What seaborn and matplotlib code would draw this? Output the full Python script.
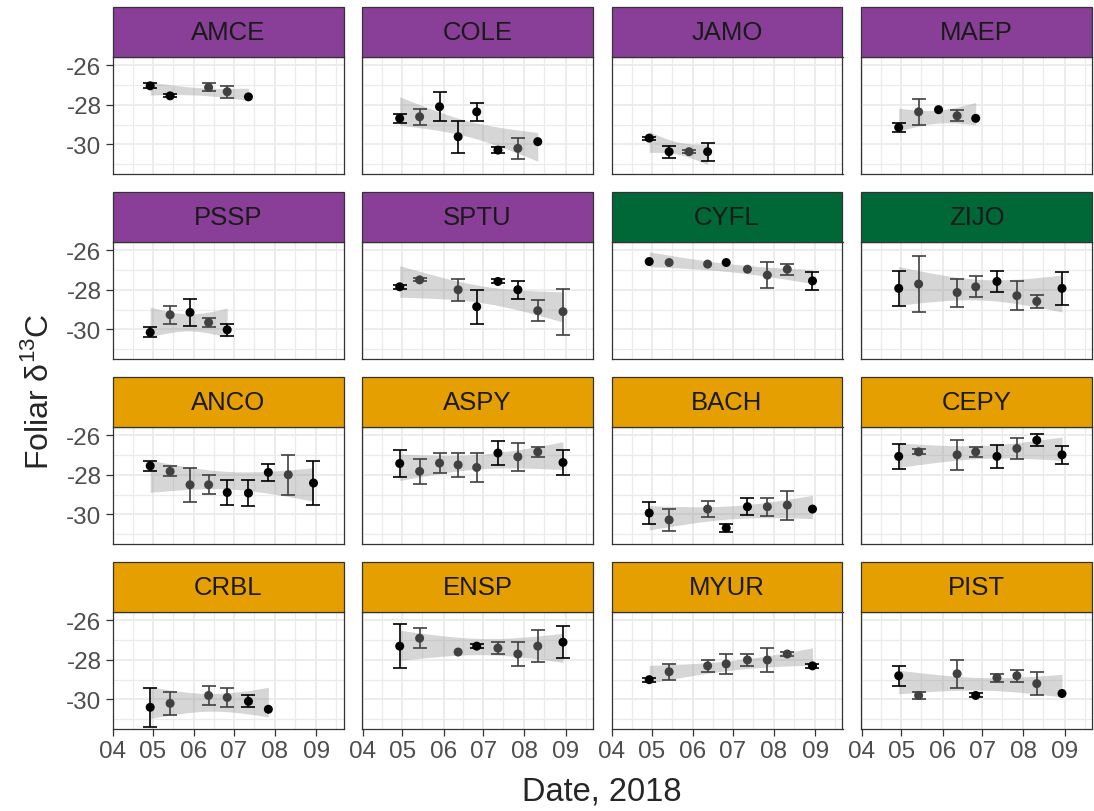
import numpy as np
import pandas as pd
import matplotlib
matplotlib.use("Agg")
import matplotlib.pyplot as plt
import matplotlib.dates as mdates
from matplotlib.patches import Rectangle
import seaborn as sns

# Sampling dates (2018) shared by all species
sample_dates = ["2018-04-29", "2018-05-14", "2018-05-29", "2018-06-12", "2018-06-26",
                "2018-07-12", "2018-07-27", "2018-08-11", "2018-08-30"]

species = ["AMCE", "COLE", "JAMO", "MAEP", "PSSP", "SPTU", "CYFL", "ZIJO",
           "ANCO", "ASPY", "BACH", "CEPY", "CRBL", "ENSP", "MYUR", "PIST"]
strip_group = {"AMCE": "p", "COLE": "p", "JAMO": "p", "MAEP": "p", "PSSP": "p", "SPTU": "p",
               "CYFL": "g", "ZIJO": "g",
               "ANCO": "o", "ASPY": "o", "BACH": "o", "CEPY": "o",
               "CRBL": "o", "ENSP": "o", "MYUR": "o", "PIST": "o"}
strip_colors = {"p": "#893f98", "g": "#006837", "o": "#e69f00"}

# index into sample_dates for each point
date_idx = {
    "AMCE": [0, 1, 3, 4, 5],
    "COLE": [0, 1, 2, 3, 4, 5, 6, 7],
    "JAMO": [0, 1, 2, 3],
    "MAEP": [0, 1, 2, 3, 4],
    "PSSP": [0, 1, 2, 3, 4],
    "SPTU": [0, 1, 3, 4, 5, 6, 7, 8],
    "CYFL": [0, 1, 3, 4, 5, 6, 7, 8],
    "ZIJO": [0, 1, 3, 4, 5, 6, 7, 8],
    "ANCO": [0, 1, 2, 3, 4, 5, 6, 7, 8],
    "ASPY": [0, 1, 2, 3, 4, 5, 6, 7, 8],
    "BACH": [0, 1, 3, 4, 5, 6, 7, 8],
    "CEPY": [0, 1, 3, 4, 5, 6, 7, 8],
    "CRBL": [0, 1, 3, 4, 5, 6],
    "ENSP": [0, 1, 3, 4, 5, 6, 7, 8],
    "MYUR": [0, 1, 3, 4, 5, 6, 7, 8],
    "PIST": [0, 1, 3, 4, 5, 6, 7, 8],
}
# mean foliar d13C per date
d13c_mean = {
    "AMCE": [-27.03, -27.54, -27.11, -27.33, -27.59],
    "COLE": [-28.68, -28.60, -28.09, -29.61, -28.35, -30.29, -30.20, -29.86],
    "JAMO": [-29.68, -30.37, -30.37, -30.37],
    "MAEP": [-29.14, -28.35, -28.24, -28.55, -28.68],
    "PSSP": [-30.15, -29.26, -29.14, -29.65, -30.02],
    "SPTU": [-27.84, -27.49, -27.99, -28.85, -27.57, -27.99, -29.05, -29.10],
    "CYFL": [-26.56, -26.61, -26.69, -26.61, -26.95, -27.25, -26.95, -27.54],
    "ZIJO": [-27.92, -27.70, -28.13, -27.84, -27.57, -28.29, -28.58, -27.92],
    "ANCO": [-27.54, -27.82, -28.50, -28.50, -28.89, -28.92, -27.87, -27.99, -28.41],
    "ASPY": [-27.42, -27.82, -27.40, -27.49, -27.62, -26.89, -27.08, -26.83, -27.37],
    "BACH": [-29.93, -30.28, -29.73, -30.69, -29.61, -29.61, -29.53, -29.73],
    "CEPY": [-27.06, -26.83, -26.98, -26.83, -27.06, -26.66, -26.24, -26.98],
    "CRBL": [-30.40, -30.20, -29.80, -29.90, -30.10, -30.50],
    "ENSP": [-27.30, -26.90, -27.60, -27.30, -27.40, -27.70, -27.30, -27.10],
    "MYUR": [-29.00, -28.60, -28.30, -28.20, -28.00, -28.00, -27.70, -28.30],
    "PIST": [-28.80, -29.80, -28.70, -29.80, -28.90, -28.80, -29.20, -29.70],
}
# standard error per date
d13c_se = {
    "AMCE": [0.12, 0.07, 0.20, 0.31, 0.0],
    "COLE": [0.24, 0.40, 0.73, 0.81, 0.46, 0.14, 0.54, 0.0],
    "JAMO": [0.08, 0.31, 0.07, 0.46],
    "MAEP": [0.21, 0.66, 0.0, 0.27, 0.0],
    "PSSP": [0.25, 0.45, 0.70, 0.23, 0.31],
    "SPTU": [0.10, 0.08, 0.55, 0.86, 0.10, 0.46, 0.53, 1.16],
    "CYFL": [0.0, 0.0, 0.0, 0.0, 0.0, 0.66, 0.28, 0.44],
    "ZIJO": [0.89, 1.43, 0.71, 0.54, 0.51, 0.74, 0.32, 0.84],
    "ANCO": [0.25, 0.25, 0.85, 0.48, 0.64, 0.65, 0.42, 1.02, 1.12],
    "ASPY": [0.68, 0.65, 0.49, 0.59, 0.73, 0.62, 0.72, 0.25, 0.61],
    "BACH": [0.55, 0.57, 0.42, 0.21, 0.42, 0.45, 0.74, 0.0],
    "CEPY": [0.65, 0.12, 0.75, 0.27, 0.60, 0.55, 0.29, 0.45],
    "CRBL": [1.00, 0.60, 0.50, 0.50, 0.30, 0.0],
    "ENSP": [1.10, 0.50, 0.0, 0.10, 0.30, 0.60, 0.80, 0.80],
    "MYUR": [0.10, 0.40, 0.30, 0.50, 0.30, 0.60, 0.10, 0.10],
    "PIST": [0.50, 0.20, 0.70, 0.10, 0.20, 0.30, 0.60, 0.0],
}
# b = black point, g = dark grey point
point_shade = {
    "AMCE": "bbggb", "COLE": "bgbbbbgb", "JAMO": "bbgb", "MAEP": "bgbgb",
    "PSSP": "bgbgb", "SPTU": "bggbbbgg", "CYFL": "bggbgggb", "ZIJO": "bgggbggb",
    "ANCO": "bgggbbbgb", "ASPY": "bggggbggb", "BACH": "bggbbggb", "CEPY": "bgggbgbb",
    "CRBL": "bgggbb", "ENSP": "bggbgggb", "MYUR": "bggggggb", "PIST": "bggbgggb",
}
n_reps = 3

rows = []
for sp in species:
    for i, m, s, c in zip(date_idx[sp], d13c_mean[sp], d13c_se[sp], point_shade[sp]):
        rows.append({"species": sp, "date": pd.Timestamp(sample_dates[i]),
                     "d13c": m, "se": s, "shade": c})
df = pd.DataFrame(rows)
df["xnum"] = mdates.date2num(df["date"])

shade_colors = {"b": "#000000", "g": "#404040"}


def t975(dof):
    z = 1.959964
    g1 = (z**3 + z) / 4
    g2 = (5 * z**5 + 16 * z**3 + 3 * z) / 96
    g3 = (3 * z**7 + 19 * z**5 + 17 * z**3 - 15 * z) / 384
    return z + g1 / dof + g2 / dof**2 + g3 / dof**3


def draw_panel(data, **kws):
    ax = plt.gca()
    x = data["xnum"].to_numpy()
    y = data["d13c"].to_numpy()
    se = data["se"].to_numpy()
    # lm fit with 95% CI, treating each mean as n_reps replicates
    slope, icpt = np.polyfit(x, y, 1)
    fit = icpt + slope * x
    sd = se * np.sqrt(n_reps)
    ss = n_reps * np.sum((y - fit) ** 2) + (n_reps - 1) * np.sum(sd ** 2)
    N = n_reps * len(x)
    s = np.sqrt(ss / (N - 2))
    sxx = n_reps * np.sum((x - x.mean()) ** 2)
    xx = np.linspace(x.min(), x.max(), 100)
    yy = icpt + slope * xx
    half = t975(N - 2) * s * np.sqrt(1 / N + (xx - x.mean()) ** 2 / sxx)
    ax.fill_between(xx, yy - half, yy + half, color="#999999", alpha=0.4, lw=0, zorder=2)
    for shade, sub in data.groupby("shade"):
        sub = sub[sub["se"] > 0]
        if len(sub):
            ax.errorbar(sub["xnum"], sub["d13c"], yerr=sub["se"], fmt="none",
                        ecolor=shade_colors[shade], elinewidth=1.2, capsize=5,
                        capthick=1.2, zorder=3)
    sns.scatterplot(data=data, x="xnum", y="d13c", hue="shade", palette=shade_colors,
                    s=42, linewidth=0, legend=False, ax=ax, zorder=4)


sns.set_theme(style="whitegrid")
plt.rcParams["font.family"] = ["Liberation Sans", "DejaVu Sans"]
plt.rcParams["mathtext.fontset"] = "custom"
plt.rcParams["mathtext.rm"] = "Liberation Sans"
plt.rcParams["axes.unicode_minus"] = False

g = sns.FacetGrid(df, col="species", col_wrap=4, col_order=species,
                  sharex=True, sharey=True, height=2, aspect=1.5)
g.map_dataframe(draw_panel)
g.set_titles("")
g.set_axis_labels("", "")

W, H = 1094, 812
fig = g.figure
fig.set_size_inches(W / 100, H / 100)
fig.set_dpi(100)

pw, ph, strip_h = 231, 117, 50
xmin = mdates.date2num(pd.Timestamp("2018-04-01")) - 0.4
xmax = xmin + 174

for k, sp in enumerate(species):
    ax = g.axes[k]
    r, c = divmod(k, 4)
    left = 112.5 + 249.5 * c
    top = 58 + 185 * r
    ax.set_position([left / W, 1 - (top + ph) / H, pw / W, ph / H])
    ax.set_xlim(xmin, xmax)
    ax.set_ylim(-31.5, -25.57)
    ax.set_facecolor("white")
    ax.xaxis.set_major_locator(mdates.MonthLocator())
    ax.xaxis.set_minor_locator(mdates.MonthLocator(bymonthday=16))
    ax.xaxis.set_major_formatter(mdates.DateFormatter("%m"))
    ax.set_yticks([-30, -28, -26])
    ax.set_yticks([-31, -29, -27], minor=True)
    ax.grid(which="major", color="#ebebeb", lw=1.3)
    ax.grid(which="minor", color="#ebebeb", lw=0.9)
    ax.set_axisbelow(True)
    ax.tick_params(which="major", length=5, width=0.9, color="#333333",
                   labelsize=17.5, labelcolor="#4d4d4d", pad=3)
    ax.tick_params(which="minor", length=0)
    ax.tick_params(axis="x", bottom=(r == 3), labelbottom=(r == 3))
    ax.tick_params(axis="y", left=(c == 0), labelleft=(c == 0))
    ax.set_xlabel("")
    ax.set_ylabel("")
    for sp_name in ["left", "right", "top", "bottom"]:
        ax.spines[sp_name].set_visible(True)
        ax.spines[sp_name].set_color("#333333")
        ax.spines[sp_name].set_linewidth(0.9)
    ax.add_patch(Rectangle((0, 1), 1, strip_h / ph, transform=ax.transAxes,
                           facecolor=strip_colors[strip_group[sp]], edgecolor="#333333",
                           lw=0.9, clip_on=False, zorder=5))
    ax.text(0.5, 1 + strip_h / ph / 2, sp, transform=ax.transAxes, ha="center",
            va="center", fontsize=18.5, color="#1a1a1a", zorder=6)

fig.text(602 / W, 1 - 792 / H, "Date, 2018", ha="center", va="center", fontsize=23.5)
fig.text(39 / W, 1 - 392 / H, "Foliar δ$^{13}$C", ha="center", va="center",
         rotation=90, fontsize=23)

fig.savefig("out.png", dpi=100, facecolor="white")
